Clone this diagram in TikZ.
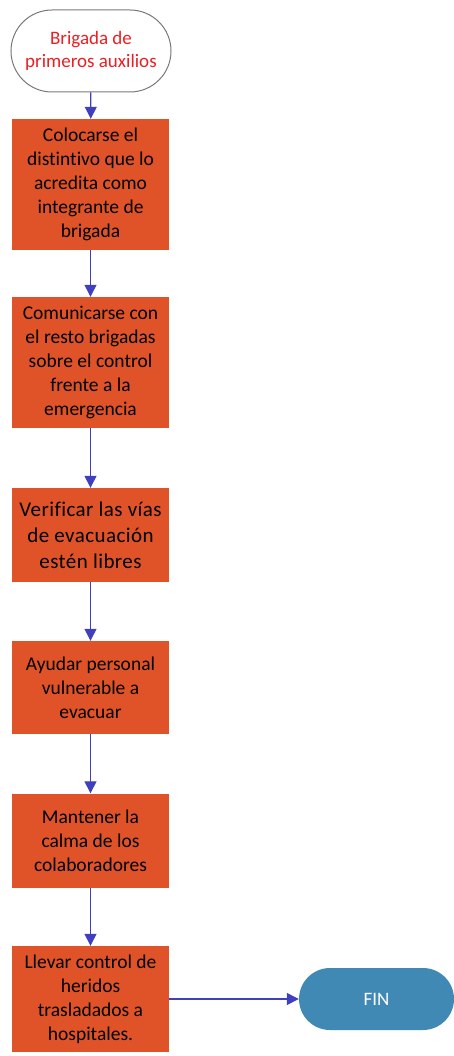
\documentclass[tikz,border=0pt]{standalone}
\usepackage{fontspec}
\setmainfont{Carlito}[Ligatures=CommonOff]
\usetikzlibrary{arrows.meta}
\definecolor{boxorange}{RGB}{224,83,41}
\definecolor{finblue}{RGB}{65,137,181}
\definecolor{arrowblue}{RGB}{64,64,190}
\definecolor{startred}{RGB}{235,30,35}
\definecolor{startgray}{RGB}{120,120,120}
\tikzset{
  stepbox/.style={fill=boxorange, draw=none, minimum width=157pt, align=center,
    font=\fontsize{19.5pt}{24pt}\selectfont, text=black, inner sep=0pt},
  bigtext/.style={font=\fontsize{21pt}{26pt}\selectfont\addfontfeature{LetterSpace=2}},
  startnode/.style={draw=startgray, line width=1pt, fill=white, rounded corners=41pt,
    minimum width=160pt, minimum height=82pt, align=center, text=startred,
    font=\fontsize{19pt}{22.5pt}\selectfont, inner sep=0pt},
  endnode/.style={fill=finblue, draw=none, rounded corners=31pt,
    minimum width=155pt, minimum height=62pt, text=white,
    font=\fontsize{19pt}{23pt}\selectfont, inner sep=0pt},
  flow/.style={draw=arrowblue, line width=1.3pt,
    -{Triangle[length=12pt,width=12pt]}, arrowblue}
}
\begin{document}
\begin{tikzpicture}[x=1pt,y=-1pt]
\useasboundingbox (0,0) rectangle (454,1056);
\node[startnode] (s) at (91,51) {Brigada de\\primeros auxilios};
\node[stepbox, minimum height=131pt] (b1) at (90.5,184.5) {Colocarse el\\distintivo que lo\\acredita como\\integrante de\\brigada};
\node[stepbox, minimum height=131pt] (b2) at (90.5,362.5) {Comunicarse con\\el resto brigadas\\sobre el control\\frente a la\\emergencia};
\node[stepbox, bigtext, minimum height=94pt] (b3) at (90.5,535) {Verificar las vías\\de evacuación\\estén libres};
\node[stepbox, minimum height=93pt] (b4) at (90.5,687.5) {Ayudar personal\\vulnerable a\\evacuar};
\node[stepbox, minimum height=94pt] (b5) at (90.5,840.5) {Mantener la\\calma de los\\colaboradores};
\node[stepbox, minimum height=106pt] (b6) at (90.5,999) {Llevar control de\\heridos\\trasladados a\\hospitales.};
\node[endnode] (fin) at (376.5,999) {FIN};
\draw[flow] (s) -- (b1);
\draw[flow] (b1) -- (b2);
\draw[flow] (b2) -- (b3);
\draw[flow] (b3) -- (b4);
\draw[flow] (b4) -- (b5);
\draw[flow] (b5) -- (b6);
\draw[flow] (b6) -- (fin);
\end{tikzpicture}
\end{document}
